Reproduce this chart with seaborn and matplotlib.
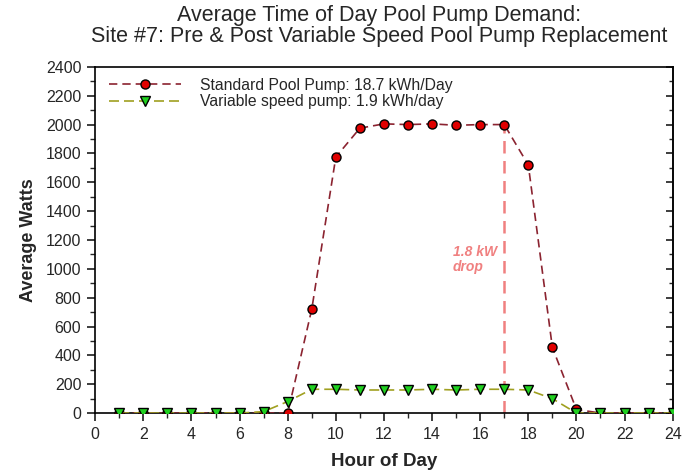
import matplotlib
matplotlib.use("Agg")
import matplotlib.pyplot as plt
import seaborn as sns
import numpy as np
from matplotlib.ticker import MultipleLocator, NullFormatter

sns.set_theme(style="ticks")
plt.rcParams['font.family'] = ['Liberation Sans', 'DejaVu Sans']

hours = list(range(1, 25))
standard = [0, 0, 0, 0, 0, 0, 0, 0, 720, 1775, 1975, 2005, 2000, 2005, 1995, 2000, 2000, 1720, 455, 25, 0, 0, 0, 0]
variable = [0, 0, 0, 0, 0, 0, 10, 80, 165, 165, 160, 160, 160, 165, 160, 165, 165, 160, 100, 0, 0, 0, 0, 0]
std_label = "Standard Pool Pump: 18.7 kWh/Day"
var_label = "Variable speed pump: 1.9 kWh/day"

fig = plt.figure(figsize=(6.85, 4.71), dpi=100)
ax = fig.add_axes([0.139, 0.123, 0.843, 0.735])

sns.lineplot(x=hours, y=standard, ax=ax, color="#8b2330", linestyle=(0, (5, 3)), lw=1.2,
             marker="o", markersize=6.5, markerfacecolor="#e00000", markeredgecolor="black",
             markeredgewidth=1, label=std_label, zorder=3)
sns.lineplot(x=hours, y=variable, ax=ax, color="#a0a020", linestyle=(0, (6, 3)), lw=1.2,
             marker="v", markersize=7.5, markerfacecolor="#20d020", markeredgecolor="black",
             markeredgewidth=1, label=var_label, zorder=4)

ax.vlines(17, 0, standard[16], colors="#f08080", linestyles=(0, (5, 3)), lw=1.8, zorder=2)
ax.text(14.85, 1065, "1.8 kW\ndrop", color="#f08080", fontsize=10, fontstyle="italic",
        fontweight="bold", ha="left", va="center", linespacing=1.1)

ax.set_xlim(0, 24)
ax.set_ylim(0, 2400)
ax.xaxis.set_major_locator(MultipleLocator(2))
ax.xaxis.set_minor_locator(MultipleLocator(1))
ax.yaxis.set_major_locator(MultipleLocator(200))
ax.yaxis.set_minor_locator(MultipleLocator(100))
ax.tick_params(which="both", direction="out", right=False, top=False, labelsize=11.5, pad=4)
ax.tick_params(which="major", length=6)
ax.tick_params(which="minor", length=3.5)

ax2 = ax.secondary_yaxis("right")
ax2.yaxis.set_major_locator(MultipleLocator(200))
ax2.yaxis.set_minor_locator(MultipleLocator(100))
ax2.yaxis.set_major_formatter(NullFormatter())
ax2.tick_params(which="both", direction="in", labelright=False)
ax2.tick_params(which="major", length=5)
ax2.tick_params(which="minor", length=3)
ax2.spines["right"].set_linewidth(1.2)

for sp in ax.spines.values():
    sp.set_visible(True)
    sp.set_linewidth(1.2)
    sp.set_color("black")

ax.set_xlabel("Hour of Day", fontsize=13.5, fontweight="bold", labelpad=8)
ax.set_ylabel("Average Watts", fontsize=13, fontweight="bold", labelpad=6)
fig.suptitle("Average Time of Day Pool Pump Demand:\nSite #7: Pre & Post Variable Speed Pool Pump Replacement",
             fontsize=15.5, x=0.553, y=0.99, linespacing=1.0)

leg = ax.legend(loc="upper left", frameon=False, fontsize=11.3, handlelength=4.6,
                borderaxespad=0.3, labelspacing=0.1, handletextpad=1.2,
                bbox_to_anchor=(0.005, 1.0))

fig.savefig("out.png", dpi=100)
